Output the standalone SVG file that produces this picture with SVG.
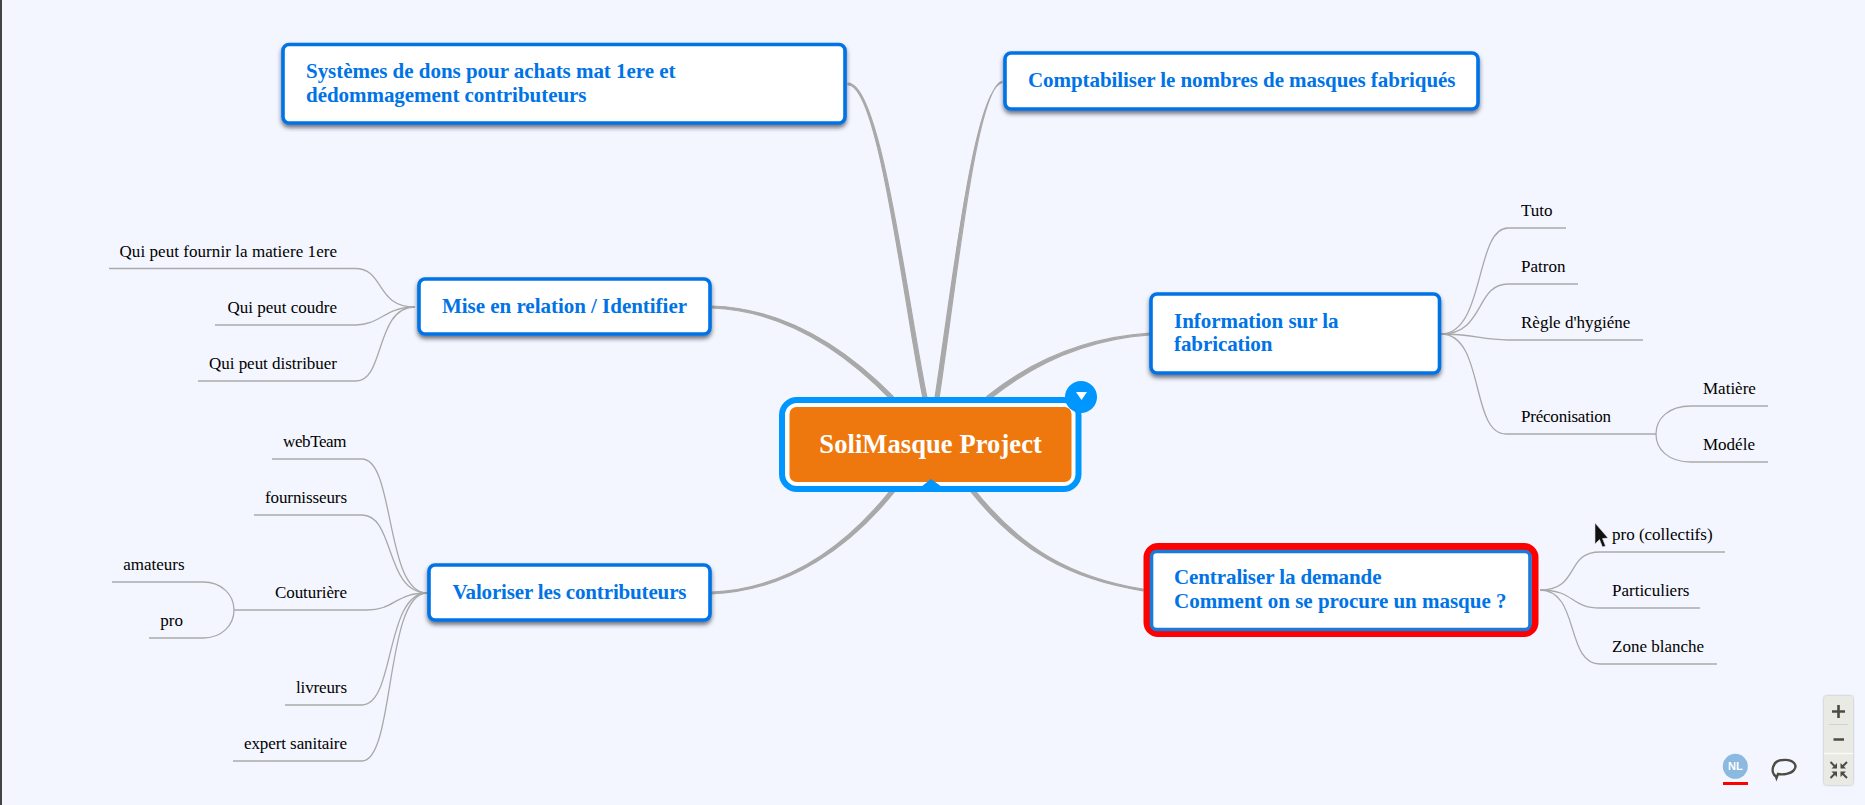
<svg xmlns="http://www.w3.org/2000/svg" width="1865" height="805" viewBox="0 0 1865 805">
<defs>
<filter id="sh" x="-10%" y="-20%" width="120%" height="150%"><feDropShadow dx="0" dy="3" stdDeviation="2" flood-color="#2a2a3a" flood-opacity="0.65"/></filter>
<filter id="ps" x="-30%" y="-10%" width="160%" height="120%"><feDropShadow dx="0" dy="0" stdDeviation="1.2" flood-color="#555" flood-opacity="0.5"/></filter>
</defs>
<style>
.t{font-family:"Liberation Serif",serif;font-weight:700;font-size:21px;fill:#0073e6}
.l{font-family:"Liberation Serif",serif;font-size:17px;fill:#000}
.e{text-anchor:end}
.b{fill:#fff;stroke:#0073e6;stroke-width:3.6}
.c{fill:none;stroke:#a9a9a9;stroke-width:1.3}
.u{fill:none;stroke:#aaa;stroke-width:1.6}
.k{fill:#a9a9a9;stroke:#a9a9a9;stroke-width:1.2;stroke-linejoin:round}
.i{fill:none;stroke:#4c4c44;stroke-width:2.4}
</style>
<rect width="1865" height="805" fill="#f3f6fe"/>
<rect width="2" height="805" fill="#444"/>
<g id="connectors">
<path class="k" d="M848 83.2C881 83 907 300 927 397.6L923 398.400C903 300 879 85 848 84.800Z"/>
<path class="k" d="M1002 81.300C976 89 957 280 939 398.300L935 397.700C953 280 974 90 1002 82.700Z"/>
<path class="k" d="M712 306C791 308.500 851 353.500 893.400 396.600L890.600 399.400C849 356.500 789 311 712 308Z"/>
<path class="k" d="M1150 333.200C1090 337 1034 358.500 986.700 396.400L989.300 399.600C1036 361.500 1090 339 1150 334.800Z"/>
<path class="k" d="M711 592.200C789 589 848.500 544 893.400 486.800L896.600 489.200C851.500 546 790 591 711 593.800Z"/>
<path class="k" d="M1143 589.200C1070.500 577 1021.500 548.800 973.600 488.800L970.400 491.200C1018.500 551.200 1069.500 579 1143 590.800Z"/>
<path class="c" d="M415 307C375 307 385 268.500 355 268.500"/><path class="u" d="M355 268.500H109"/>
<path class="c" d="M415 307C385 307 380 325 356 325"/><path class="u" d="M356 325H215"/>
<path class="c" d="M415 307C375 307 385 381 356 381"/><path class="u" d="M356 381H198"/>
<path class="c" d="M427 593C385 593 395 459 362 459"/><path class="u" d="M362 459H272"/>
<path class="c" d="M427 593C385 593 395 515 362 515"/><path class="u" d="M362 515H254"/>
<path class="c" d="M427 593C395 593 395 610 367 610"/><path class="u" d="M367 610H234"/>
<path class="c" d="M427 593C385 593 395 705 362 705"/><path class="u" d="M362 705H285"/>
<path class="c" d="M427 593C385 593 395 761 362 761"/><path class="u" d="M362 761H233"/>
<path class="c" d="M234 610C234 595 222 582 203 582"/><path class="u" d="M203 582H112"/>
<path class="c" d="M234 610C234 625 222 638 203 638"/><path class="u" d="M203 638H149"/>
<path class="c" d="M1441 334C1485 334 1475 228 1508 228"/><path class="u" d="M1508 228H1566"/>
<path class="c" d="M1441 334C1485 334 1475 284 1508 284"/><path class="u" d="M1508 284H1578"/>
<path class="c" d="M1441 334C1475 334 1480 340 1508 340"/><path class="u" d="M1508 340H1643"/>
<path class="c" d="M1441 334C1485 334 1470 434 1506 434"/><path class="u" d="M1506 434H1656"/>
<path class="c" d="M1656 434C1656 419 1668 406 1691 406"/><path class="u" d="M1691 406H1768"/>
<path class="c" d="M1656 434C1656 449 1668 462 1691 462"/><path class="u" d="M1691 462H1768"/>
<path class="c" d="M1540 590C1580 590 1565 552 1600 552"/><path class="u" d="M1600 552H1725"/>
<path class="c" d="M1540 590C1575 590 1570 608 1600 608"/><path class="u" d="M1600 608H1700"/>
<path class="c" d="M1540 590C1580 590 1565 664 1600 664"/><path class="u" d="M1600 664H1717"/>
</g>
<g id="root">
<rect x="782" y="400" width="296.500" height="89" rx="15" fill="#fff" stroke="#0096ff" stroke-width="6"/>
<rect x="789.500" y="407" width="282" height="75" rx="7" fill="#ee780d"/>
<path d="M921 487L931 479L942 487Z" fill="#0096ff"/>
<circle cx="1081" cy="397" r="16" fill="#0096ff"/>
<path d="M1076 392H1087L1081.500 400Z" fill="#fff"/>
<text x="819.300" y="453" textLength="222.500" style="font-family:'Liberation Serif',serif;font-weight:700;font-size:26.500px;fill:#fff">SoliMasque Project</text>
</g>
<g id="n-systemes"><rect class="b" x="283" y="44.500" width="562" height="78.500" rx="6" filter="url(#sh)"/><text class="t" x="306" y="78" textLength="369.500">Systèmes de dons pour achats mat 1ere et</text><text class="t" x="306" y="102" textLength="280.500">dédommagement contributeurs</text></g>
<g id="n-comptabiliser"><rect class="b" x="1005" y="53" width="473" height="56" rx="6" filter="url(#sh)"/><text class="t" x="1028" y="87" textLength="427.500">Comptabiliser le nombres de masques fabriqués</text></g>
<g id="n-mise"><rect class="b" x="419" y="279" width="291" height="55" rx="6" filter="url(#sh)"/><text class="t" x="442" y="313" textLength="245">Mise en relation / Identifier</text></g>
<g id="n-info"><rect class="b" x="1151" y="294" width="288.500" height="79" rx="6" filter="url(#sh)"/><text class="t" x="1174" y="328" textLength="164.600">Information sur la</text><text class="t" x="1174" y="351" textLength="98.400">fabrication</text></g>
<g id="n-valoriser"><rect class="b" x="429" y="565" width="281" height="55" rx="6" filter="url(#sh)"/><text class="t" x="452.500" y="599" textLength="234">Valoriser les contributeurs</text></g>
<g id="n-centraliser"><rect x="1147" y="546.500" width="388" height="87" rx="11" fill="#fff" stroke="#f00" stroke-width="7"/><rect class="b" x="1151.500" y="551.500" width="378.500" height="78" rx="5" style="stroke:#1a7ad9"/><text class="t" x="1174" y="584" textLength="207.500">Centraliser la demande</text><text class="t" x="1174" y="608" textLength="332.500">Comment on se procure un masque ?</text></g>
<g id="l-fournir"><text class="l e" x="337" y="257" textLength="217.500">Qui peut fournir la matiere 1ere</text></g>
<g id="l-coudre"><text class="l e" x="337" y="313">Qui peut coudre</text></g>
<g id="l-distribuer"><text class="l e" x="337" y="369" textLength="128">Qui peut distribuer</text></g>
<g id="l-webteam"><text class="l e" x="346.500" y="447" textLength="63.500">webTeam</text></g>
<g id="l-fournisseurs"><text class="l e" x="347" y="503" textLength="82">fournisseurs</text></g>
<g id="l-couturiere"><text class="l e" x="347" y="598" textLength="72">Couturière</text></g>
<g id="l-amateurs"><text class="l e" x="184.500" y="570">amateurs</text></g>
<g id="l-pro"><text class="l e" x="183" y="626">pro</text></g>
<g id="l-livreurs"><text class="l e" x="347" y="693" textLength="51">livreurs</text></g>
<g id="l-expert"><text class="l e" x="347" y="749" textLength="103">expert sanitaire</text></g>
<g id="l-tuto"><text class="l" x="1521" y="216">Tuto</text></g>
<g id="l-patron"><text class="l" x="1521" y="272">Patron</text></g>
<g id="l-regle"><text class="l" x="1521" y="328">Règle d'hygiéne</text></g>
<g id="l-preco"><text class="l" x="1521" y="422" textLength="90">Préconisation</text></g>
<g id="l-matiere"><text class="l" x="1703" y="394">Matière</text></g>
<g id="l-modele"><text class="l" x="1703" y="450">Modéle</text></g>
<g id="l-procollectifs"><text class="l" x="1612" y="540">pro (collectifs)</text></g>
<g id="l-particuliers"><text class="l" x="1612" y="596">Particuliers</text></g>
<g id="l-zone"><text class="l" x="1612" y="652">Zone blanche</text></g>
<path d="M1595 523V544L1599.500 539.500L1602.500 547L1605.500 546L1602.500 538.500L1608 538Z" fill="#111" stroke="#ddd" stroke-width="0.6"/>
<g id="avatar"><circle cx="1735.300" cy="766.300" r="12.500" fill="#8bb9e0"/><text x="1735.300" y="770.300" text-anchor="middle" style="font-family:'Liberation Sans',sans-serif;font-weight:700;font-size:11px;fill:#fff">NL</text><rect x="1723" y="782" width="25" height="3" fill="#f00"/></g>
<g id="chat"><path class="i" d="M1776 776.500C1770 773 1772 760 1783 760C1793 759 1798 765 1794 770C1791 774 1783 775 1778 774L1776.500 778Z"/></g>
<g id="zoom-panel"><rect x="1824" y="696" width="29" height="89" rx="3" fill="#eaeae4" filter="url(#ps)"/><path d="M1829 724.500H1848" stroke="#d2d2cc"/><path d="M1824 753.500H1853" stroke="#fafaf7" stroke-width="1.500"/><path d="M1838.500 705V718M1832 711.500H1845M1833.500 739.500H1844" stroke="#4c4c44" stroke-width="2.600" fill="none"/><path d="M1830.500 762L1836 767.500M1847 762L1841.500 767.500M1830.500 778L1836 772.500M1847 778L1841.500 772.500" stroke="#4c4c44" stroke-width="2" fill="none"/><path d="M1837 768.500H1831.500L1837 763ZM1840.500 768.500H1846L1840.500 763ZM1837 771.500H1831.500L1837 777ZM1840.500 771.500H1846L1840.500 777Z" fill="#4c4c44"/></g>
</svg>
